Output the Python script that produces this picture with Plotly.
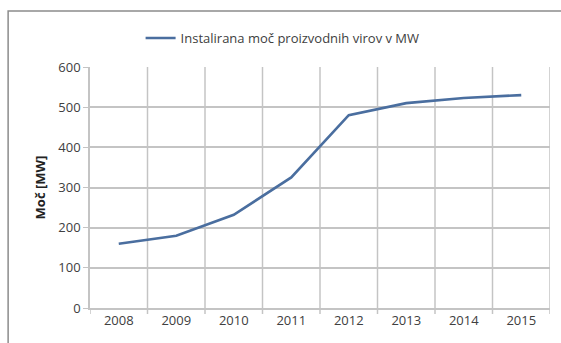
import plotly.graph_objects as go

years = ["2008", "2009", "2010", "2011", "2012", "2013", "2014", "2015"]
power_mw = [160, 180, 232, 325, 480, 510, 523, 530]
series_name = "Instalirana moč proizvodnih virov v MW"
y_title = "Moč [MW]"
y_ticks = [0, 100, 200, 300, 400, 500, 600]

FONT = "'Open Sans', Lato, sans-serif"
GRID = "#c4c4c4"
TEXT = "#404040"

fig = go.Figure()
fig.add_trace(go.Scatter(
    x=years, y=power_mw, mode="lines", name=series_name,
    line=dict(color="#4a6e9f", width=2.6),
))

# thin frame around the whole chart
fig.add_shape(type="rect", xref="paper", yref="paper",
              x0=-0.178, x1=1.05, y0=-0.2, y1=1.232,
              line=dict(color="#8c8c8c", width=1.5), fillcolor="rgba(0,0,0,0)",
              layer="below")

fig.update_layout(
    width=561, height=343,
    margin=dict(l=90, r=11, t=67, b=35),
    paper_bgcolor="white", plot_bgcolor="white",
    font=dict(family=FONT, size=12, color=TEXT),
    showlegend=True,
    legend=dict(orientation="h", x=0.11, y=1.12, xanchor="left", yanchor="middle",
                font=dict(family=FONT, size=13, color=TEXT),
                itemwidth=30, bgcolor="rgba(0,0,0,0)"),
    xaxis=dict(type="category", range=[-0.5, 7.5], showgrid=False,
               showline=True, linecolor=GRID, linewidth=1.5,
               ticks="", tickfont=dict(size=13, color=TEXT),
               fixedrange=True),
    yaxis=dict(range=[0, 600], tickvals=y_ticks, showgrid=True, gridcolor=GRID,
               gridwidth=1.5, zeroline=False, showline=True, linecolor=GRID,
               linewidth=1.5, ticks="outside", ticklen=5, tickcolor=GRID,
               tickfont=dict(size=13, color=TEXT),
               title=dict(text=y_title, standoff=10,
                          font=dict(family=FONT, size=13, color="#222222", weight="bold")),
               fixedrange=True),
)

# vertical category dividers drawn from the category axis positions
for i in range(len(years)):
    fig.add_shape(type="line", xref="x", yref="paper",
                  x0=i + 0.5, x1=i + 0.5, y0=-0.025, y1=1,
                  line=dict(color=GRID, width=1.5), layer="below")
fig.add_shape(type="line", xref="x", yref="paper", x0=-0.5, x1=-0.5, y0=-0.025, y1=0,
              line=dict(color=GRID, width=1.5), layer="below")

fig.write_html("out.html")
